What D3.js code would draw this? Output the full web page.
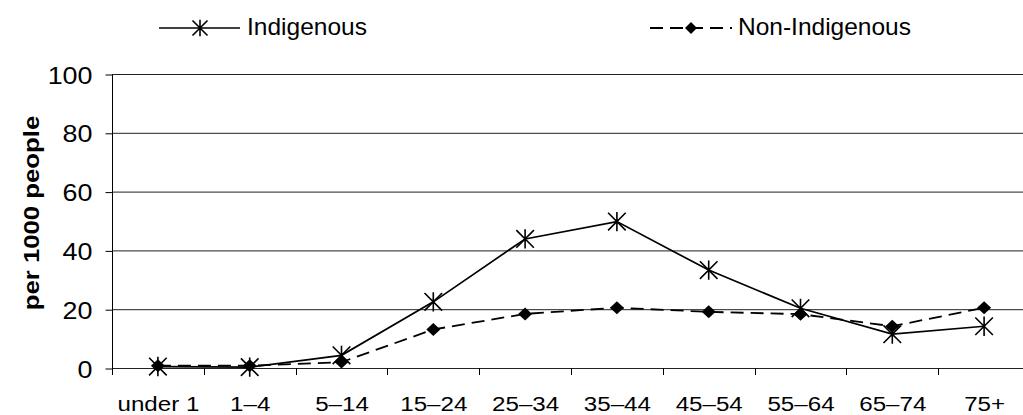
<!DOCTYPE html>
<html><head><meta charset="utf-8">
<script src="https://cdn.jsdelivr.net/npm/d3@7"></script>
<style>
body{margin:0;background:#fff;}
svg{display:block;font-family:"Liberation Sans",Arial,sans-serif;}
</style></head>
<body>
<svg id="chart" width="1023" height="415"></svg>
<script>
const categories = ["under 1","1–4","5–14","15–24","25–34","35–44","45–54","55–64","65–74","75+"];
const indigenous = [0.5,0.3,4.3,22.5,43.9,49.8,33.3,20.3,11.5,14.2];
const nonIndigenous = [0.8,0.8,2.0,13.1,18.4,20.5,19.1,18.3,14.2,20.5];
const yTicks = [0,20,40,60,80,100];
const seriesNames = ["Indigenous","Non-Indigenous"];
const yTitle = "per 1000 people";

const svg = d3.select("#chart");
const x = d3.scaleBand().domain(categories).range([112,1030]).padding(0);
const y = d3.scaleLinear().domain([0,100]).range([368,74]);
const FONT = "Liberation Sans, Arial, sans-serif";

// gridlines
svg.append("g").selectAll("line").data(yTicks).join("line")
  .attr("x1",112).attr("x2",1030)
  .attr("y1",d=>y(d)+0.5).attr("y2",d=>y(d)+0.5)
  .attr("stroke","#222").attr("stroke-width",1);

// y axis
const ySX = 1.12;
const yAxis = svg.append("g").attr("transform","translate(112.5,0.5)")
  .call(d3.axisLeft(y).tickValues(yTicks).tickSize(7).tickPadding(13).tickFormat(d3.format("d")));
yAxis.select(".domain").attr("stroke","#000").attr("d",`M0,${y(100)}V${y(0)}`);
yAxis.selectAll(".tick line").attr("stroke","#000");
yAxis.selectAll("text")
  .attr("font-size","24px").attr("font-family",FONT).attr("fill","#000")
  .attr("x",-20/ySX).attr("dy","0.36em").attr("transform",`scale(${ySX},1)`);

// x axis
const xSX = 1.15;
const xAxis = svg.append("g").attr("transform",`translate(0.5,${y(0)+0.5})`)
  .call(d3.axisBottom(x).tickSize(0).tickPadding(0));
xAxis.select(".domain").attr("stroke","#222").attr("d","M112,0H1030");
xAxis.selectAll("text")
  .attr("font-size","21px").attr("font-family",FONT).attr("fill","#000")
  .attr("y",43).attr("dy","0").attr("transform",`scale(${xSX},1)`);
// boundary ticks
const bounds = categories.map(c=>x(c)).concat([x.range()[1]]);
svg.append("g").selectAll("line").data(bounds).join("line")
  .attr("x1",d=>Math.round(d)+0.5).attr("x2",d=>Math.round(d)+0.5)
  .attr("y1",y(0)).attr("y2",y(0)+7)
  .attr("stroke","#000").attr("stroke-width",1);

// y title
svg.append("text")
  .attr("transform",`translate(31,${213}) rotate(-90) scale(1.17,1)`)
  .attr("text-anchor","middle").attr("dy","0.35em").attr("font-weight","bold").attr("font-size","22px")
  .text(yTitle);

const cx = c => x(c)+x.bandwidth()/2;
const line = d3.line().x((d,i)=>cx(categories[i])).y(d=>y(d));

svg.append("path").datum(nonIndigenous).attr("d",line)
  .attr("fill","none").attr("stroke","#000").attr("stroke-width",1.8).attr("stroke-dasharray","13,7");
svg.append("path").datum(indigenous).attr("d",line)
  .attr("fill","none").attr("stroke","#000").attr("stroke-width",1.7);

function star(g,px,py,r){
  const p = `M${px-r},${py-r}L${px+r},${py+r}M${px-r},${py+r}L${px+r},${py-r}M${px},${py-r*1.1}V${py+r*1.1}`;
  g.append("path").attr("d",p).attr("stroke","#000").attr("stroke-width",1.6).attr("fill","none");
}
function diamond(g,px,py,rx,ry){
  g.append("path").attr("d",`M${px},${py-ry}L${px+rx},${py}L${px},${py+ry}L${px-rx},${py}Z`).attr("fill","#000");
}
const mk = svg.append("g");
nonIndigenous.forEach((v,i)=>diamond(mk,cx(categories[i]),y(v),7,6.5));
indigenous.forEach((v,i)=>star(mk,cx(categories[i]),y(v),8.8));

// legend
const lg = svg.append("g");
lg.append("line").attr("x1",159).attr("x2",240).attr("y1",28).attr("y2",28).attr("stroke","#000").attr("stroke-width",1.7);
star(lg,200,28,7.5);
lg.append("text").attr("x",247).attr("y",35).attr("font-size","24.5px").text(seriesNames[0]);
lg.append("line").attr("x1",650).attr("x2",732).attr("y1",28).attr("y2",28).attr("stroke","#000").attr("stroke-width",1.8).attr("stroke-dasharray","13,7");
diamond(lg,691,28,6,6);
lg.append("text").attr("x",738).attr("y",35).attr("font-size","24.5px").text(seriesNames[1]);
</script>
</body></html>
